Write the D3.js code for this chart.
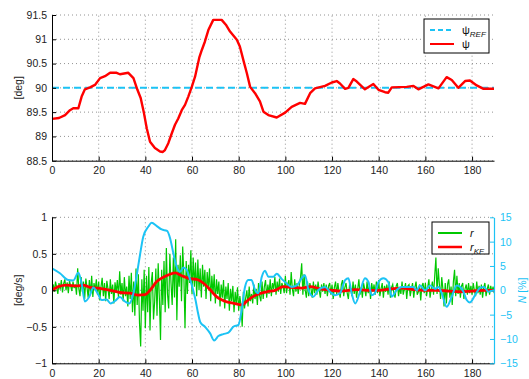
<!DOCTYPE html>
<html><head><meta charset="utf-8">
<script src="https://cdn.jsdelivr.net/npm/d3@7"></script>
<style>
body{margin:0;background:#fff;}
svg{display:block;font-family:"Liberation Sans",Arial,sans-serif;}
</style></head>
<body><svg id="c" width="529" height="379"></svg>
<script>
// ---- data ----
const xTicks = [0,20,40,60,80,100,120,140,160,180];
const psiTicks = [88.5,89,89.5,90,90.5,91,91.5];
const rTicks = [-1,-0.5,0,0.5,1];
const nTicks = [-15,-10,-5,0,5,10,15];
const psiRef = 90;
const psiT = [0,3,5.6,7.7,9.1,11.3,12.7,14.1,16.3,18.4,20.6,22.7,24.9,27.7,29.1,32.7,34.9,36.6,38,39.4,40.6,42,44.1,46.3,47.5,48.4,49.85,51.3,52.7,54.1,55.6,57,58.4,59.9,61.3,63.1,64.2,65.5,67,69.1,72.7,74.5,76.3,79.2,80.5,82,83.5,84.9,87,89.1,90.6,92.7,96.3,99.9,102.7,106.3,108.4,110.6,112.7,117,119.9,122,123.4,125.6,127,129.1,130.6,134.1,137.7,139.9,142.7,144.1,145.6,152,154.9,157,161.3,165.6,169.1,171.3,174.1,177,179.1,182,184.9,189.4];
const psiV = [89.36,89.38,89.44,89.54,89.58,89.58,89.82,89.97,90.01,90.06,90.20,90.24,90.31,90.31,90.28,90.31,90.20,89.96,89.79,89.48,89.17,88.89,88.76,88.69,88.68,88.72,88.86,89.06,89.24,89.37,89.54,89.65,89.82,90.02,90.23,90.62,90.78,90.95,91.19,91.40,91.40,91.30,91.16,90.99,90.85,90.57,90.3,90.02,89.89,89.72,89.51,89.44,89.39,89.49,89.61,89.69,89.67,89.89,89.99,90.04,90.11,90.14,90.09,89.98,90.0,90.18,90.13,89.97,90.08,89.96,89.91,89.90,90.01,90.02,90.04,89.97,90.07,89.99,90.22,90.16,90.0,90.14,90.15,90.05,89.98,89.98];
// r, sampled every 0.5 s from t=0
const rStep = 0.5;
const rV = [
0.02,0.08,-0.02,0.12,0.04,-0.05,0.10,0.01,0.14,-0.03,0.09,0.15,0.00,0.11,-0.04,0.13,0.06,-0.01,0.12,0.03,
0.08,-0.06,0.30,0.02,-0.08,0.18,-0.02,0.12,-0.12,0.16,0.04,-0.10,0.14,-0.05,0.20,-0.09,0.10,0.00,0.15,-0.06,
0.12,-0.14,0.05,0.17,-0.08,0.10,-0.15,0.13,0.02,-0.12,0.15,-0.05,0.08,-0.18,0.11,-0.03,0.14,-0.10,0.26,-0.06,
0.10,-0.15,0.18,-0.08,0.05,-0.22,0.20,-0.12,0.24,-0.30,0.12,-0.35,0.30,-0.20,0.22,-0.45,-0.77,0.15,-0.28,0.28,
-0.52,0.20,-0.30,0.32,-0.55,0.10,0.25,-0.40,-0.15,0.30,-0.35,0.37,-0.10,-0.68,0.28,-0.20,0.40,-0.30,0.58,-0.05,
-0.25,0.50,0.10,-0.20,0.45,-0.10,0.70,-0.41,0.35,0.05,0.48,-0.15,0.60,0.20,-0.52,0.40,-0.05,0.35,0.10,0.55,
-0.05,0.45,0.05,0.38,-0.08,0.42,0.00,0.30,-0.10,0.35,0.05,0.28,-0.12,0.25,0.02,0.30,-0.15,0.20,-0.05,0.22,
-0.18,0.15,-0.05,0.12,-0.22,0.08,-0.10,0.14,-0.25,0.05,-0.12,0.10,-0.28,0.02,-0.15,0.06,-0.30,-0.02,-0.20,0.04,
-0.28,-0.08,-0.22,-0.50,-0.02,-0.25,-0.10,0.00,-0.22,0.05,-0.15,-0.05,-0.18,0.08,-0.12,0.02,-0.20,0.10,-0.08,-0.15,
0.12,-0.12,0.05,0.14,-0.10,0.08,-0.05,0.15,-0.08,0.10,0.02,0.18,-0.06,0.12,-0.02,0.16,-0.05,0.10,0.05,-0.04,
0.20,-0.04,0.08,0.14,-0.06,0.25,0.02,-0.08,0.15,-0.02,0.10,-0.05,0.08,0.18,0.37,-0.06,0.22,0.00,-0.10,0.12,
-0.08,0.10,0.02,-0.10,0.12,-0.04,0.08,-0.06,0.12,0.00,-0.10,0.08,-0.02,0.10,-0.05,0.08,-0.08,0.06,0.10,-0.06,
0.08,-0.12,0.04,0.12,-0.06,0.10,-0.02,-0.10,0.08,0.14,-0.08,0.04,0.10,-0.04,-0.12,0.08,0.02,-0.08,0.12,-0.05,
0.08,-0.10,0.02,0.15,-0.06,0.04,-0.10,0.10,0.02,-0.08,0.12,-0.04,0.06,-0.12,0.10,-0.02,0.08,-0.06,0.12,-0.04,
0.14,-0.08,0.02,0.10,-0.10,0.06,-0.02,0.08,-0.06,0.12,-0.10,0.04,0.08,-0.04,-0.10,0.06,0.10,-0.08,0.04,-0.05,
0.12,-0.06,0.02,0.10,-0.12,0.06,0.08,-0.08,0.02,0.10,-0.10,0.04,0.12,-0.06,-0.02,0.08,-0.14,0.06,0.10,-0.04,
0.10,-0.08,0.04,0.15,-0.10,0.02,0.12,-0.06,0.20,0.45,-0.05,0.30,0.08,-0.12,0.18,0.02,-0.22,0.10,-0.18,0.08,
0.15,-0.10,0.05,-0.20,0.12,0.28,-0.08,0.20,-0.05,0.10,-0.10,0.06,0.10,-0.12,0.02,0.08,-0.06,0.10,-0.04,0.06,
-0.06,0.10,0.00,-0.08,0.12,-0.04,0.06,-0.06,0.08,-0.10,0.04,0.10,-0.08,0.02,0.08,-0.06,0.06,-0.02,0.05,-0.04];
const kfT = [0,2.7,6.3,10.6,13.4,16.3,19.9,24.9,29.1,33.4,37,39.9,42,44.9,47.7,50.6,52.7,55.6,59.1,62,64.8,67.7,70.6,74.1,78,81.3,84.1,87.7,92,95.6,99.1,102.7,107,110.6,115.6,119.9,124.2,130,135,140,145,150,155,160,165,170,175,180,185,189.4];
const kfV = [0.0,0.05,0.07,0.06,0.07,0.04,0.03,0.0,-0.03,-0.04,-0.065,-0.06,0.0,0.12,0.18,0.22,0.24,0.20,0.16,0.15,0.10,0.01,-0.09,-0.15,-0.18,-0.20,-0.13,-0.06,-0.02,0.0,0.05,0.04,0.03,0.05,0.015,0.0,-0.01,0.01,0.0,0.0,0.02,0.03,0.01,0.0,0.0,-0.01,-0.02,-0.01,0.0,0.0];
const nT = [0,3.4,7,9.1,11.3,12.7,14.1,16,17.7,19.4,21.3,23.4,25.1,27,29.1,31.3,33.1,34.9,36.3,37.7,39.1,41.3,42.7,44.9,47,49.3,50.6,52,53.4,54.9,56.3,57.7,59,60.5,61.5,62.5,63.5,65.6,67.7,69.5,71.3,73.4,75.6,77.7,79.9,81.3,82.7,84.1,85.5,87,88.4,89.9,91.3,92.7,94.9,96.3,98.5,100.6,102.7,104.9,107,108.4,109.9,112,114.1,117,119.1,121.3,123.4,125.6,127,128.4,129.9,132,134.1,135.6,137,138.4,139.9,142,144.1,145.6,147.7,149.9,152.7,154.9,156.3,157.7,159.9,162,164.1,165.6,167,169.1,171.3,173.4,174.9,176.3,177.7,179.1,181.3,183.4,185.1,187,189.4];
const nV = [4.5,3.5,2.1,2.0,3.6,1.4,-2.3,-1.3,0.6,-0.5,-2.0,-1.9,-2.7,-2.2,-1.4,-2.3,-2.7,-0.6,3.1,7.25,11.0,13.1,13.9,13.2,12.5,12.2,10.7,7.6,4.85,3.8,4.7,4.2,2.5,0,-2,-4.5,-6.5,-7.5,-8.8,-10.3,-9.4,-9.0,-8.7,-7.5,-7.1,-4.0,0.7,2.1,2.1,0.06,-0.6,2.8,4.0,2.8,2.8,3.4,2.3,1.4,0.7,1.0,2.5,3.1,0.06,-1.3,0.06,0.7,-0.3,-1.0,-0.6,2.1,2.5,-0.6,-2.7,-0.3,2.5,1.7,-1.0,-0.6,1.7,2.5,1.7,-1.3,0.06,0.7,0.7,0.7,0.0,1.0,0.0,1.0,0.3,0.7,-0.6,-3.4,-1.3,1.0,0.7,-0.3,-2.0,-2.5,-1.0,0.5,0.7,-0.3,0.0];

// ---- styles ----
const RED="#ff0000", GREEN="#00c800", CYAN="#1cc3f5";
const svg = d3.select("#c");
const L=52, R=494;
const x = d3.scaleLinear().domain([0,189.4]).range([L,R]);
const yT = d3.scaleLinear().domain([88.5,91.5]).range([160.7,15]);
const yB = d3.scaleLinear().domain([-1,1]).range([363.3,217.3]);
const yN = d3.scaleLinear().domain([-15,15]).range([363.3,217.3]);
const fmt = v => (v<0? "\u2212"+Math.abs(v) : String(v));

function grid(y, ticks){
  const g = svg.append("g");
  xTicks.forEach(t=>{ if(t>0) g.append("line").attr("x1",x(t)).attr("x2",x(t)).attr("y1",y.range()[0]).attr("y2",y.range()[1]); });
  ticks.forEach(t=>{ g.append("line").attr("x1",L).attr("x2",R).attr("y1",y(t)).attr("y2",y(t)); });
  g.selectAll("line").attr("stroke","#777").attr("stroke-width",0.8).attr("stroke-dasharray","1,3");
}
function axes(y, ticks){
  const gx = svg.append("g").attr("transform",`translate(0,${y.range()[0]})`)
    .call(d3.axisBottom(x).tickValues(xTicks).tickSizeInner(-4).tickSizeOuter(0).tickPadding(6).tickFormat(fmt));
  const gy = svg.append("g").attr("transform",`translate(${L},0)`)
    .call(d3.axisLeft(y).tickValues(ticks).tickSizeInner(-4).tickSizeOuter(0).tickPadding(5).tickFormat(fmt));
  [gx,gy].forEach(g=>{
    g.select(".domain").attr("stroke","#000").attr("stroke-width",1);
    g.selectAll(".tick line").attr("stroke","#000");
    g.selectAll("text").attr("font-size",10.5).attr("fill","#222").attr("font-family","Liberation Sans, Arial, sans-serif");
  });
}

// top plot
grid(yT, psiTicks);
svg.append("line").attr("x1",L).attr("x2",R).attr("y1",yT(psiRef)).attr("y2",yT(psiRef))
  .attr("stroke",CYAN).attr("stroke-width",2).attr("stroke-dasharray","7,4");
const psiData = psiT.map((t,i)=>[t,psiV[i]]);
svg.append("path").datum(psiData).attr("fill","none").attr("stroke",RED).attr("stroke-width",2.4)
  .attr("stroke-linejoin","round")
  .attr("d", d3.line().x(d=>x(d[0])).y(d=>yT(d[1])));
axes(yT, psiTicks);
svg.append("text").attr("transform",`translate(22,${(yT(88.5)+yT(91.5))/2}) rotate(-90)`)
  .attr("text-anchor","middle").attr("font-size",10.5).attr("fill","#222").text("[deg]");

// bottom plot
grid(yB, rTicks);
svg.append("clipPath").attr("id","cb").append("rect").attr("x",L).attr("y",yB(1)).attr("width",R-L).attr("height",yB(-1)-yB(1));
const gB = svg.append("g").attr("clip-path","url(#cb)");
gB.append("path").datum(rV.map((v,i)=>[i*rStep,v])).attr("fill","none").attr("stroke",GREEN).attr("stroke-width",1.2)
  .attr("d", d3.line().x(d=>x(d[0])).y(d=>yB(d[1])));
gB.append("path").datum(kfT.map((t,i)=>[t,kfV[i]])).attr("fill","none").attr("stroke",RED).attr("stroke-width",2.8)
  .attr("d", d3.line().curve(d3.curveMonotoneX).x(d=>x(d[0])).y(d=>yB(d[1])));
gB.append("path").datum(nT.map((t,i)=>[t,nV[i]])).attr("fill","none").attr("stroke",CYAN).attr("stroke-width",2)
  .attr("d", d3.line().curve(d3.curveMonotoneX).x(d=>x(d[0])).y(d=>yN(d[1])));
axes(yB, rTicks);
const gN = svg.append("g").attr("transform",`translate(${R},0)`)
  .call(d3.axisRight(yN).tickValues(nTicks).tickSizeInner(-4).tickSizeOuter(0).tickPadding(6).tickFormat(fmt));
gN.select(".domain").attr("stroke",CYAN).attr("stroke-width",1.2);
gN.selectAll(".tick line").attr("stroke",CYAN);
gN.selectAll("text").attr("font-size",10.5).attr("fill",CYAN);
svg.append("text").attr("transform",`translate(22,${(yB(-1)+yB(1))/2}) rotate(-90)`)
  .attr("text-anchor","middle").attr("font-size",10.5).attr("fill","#222").text("[deg/s]");
const nl = svg.append("text").attr("transform",`translate(526,${yN(0)}) rotate(-90)`)
  .attr("text-anchor","middle").attr("font-size",10.5).attr("fill",CYAN);
nl.append("tspan").attr("font-style","italic").text("N");
nl.append("tspan").text(" [%]");

// legends
function legend(x0,y0,w,h,items){
  const g = svg.append("g");
  g.append("rect").attr("x",x0).attr("y",y0).attr("width",w).attr("height",h).attr("fill","#fff").attr("stroke","#000").attr("stroke-width",1);
  items.forEach((it,i)=>{
    const yy = y0+11+i*14;
    g.append("line").attr("x1",x0+6).attr("x2",x0+30).attr("y1",yy).attr("y2",yy)
      .attr("stroke",it.c).attr("stroke-width",it.w).attr("stroke-dasharray",it.dash||null);
    const t = g.append("text").attr("x",x0+38).attr("y",yy+4).attr("font-size",11).attr("fill","#111");
    t.append("tspan").attr("font-style",it.italic?"italic":"normal").text(it.s);
    if(it.sub) t.append("tspan").attr("dy",3).attr("font-size",8).attr("font-style","italic").text(it.sub);
  });
}
legend(424,19,65,34,[{c:CYAN,w:2,dash:"5,3",s:"\u03c8",sub:"REF"},{c:RED,w:2,s:"\u03c8"}]);
legend(432,222,57,32,[{c:GREEN,w:2,s:"r",italic:true},{c:RED,w:2.5,s:"r",italic:true,sub:"KF"}]);
</script></body></html>
